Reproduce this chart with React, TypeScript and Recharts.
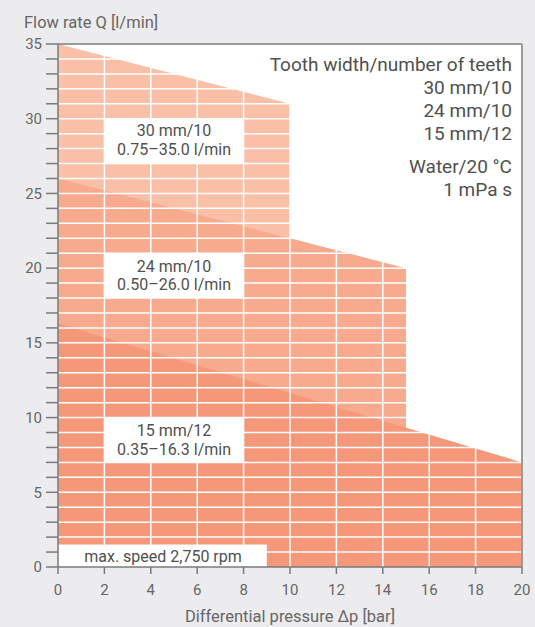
import {
  ComposedChart,
  Area,
  XAxis,
  YAxis,
  CartesianGrid,
  ReferenceLine,
  ReferenceArea,
} from 'recharts'

// delivery rate vs differential pressure, one polygon per gear size
const gear30 = [{ p: 0, q: 35 }, { p: 10, q: 31 }]
const gear24 = [{ p: 0, q: 26 }, { p: 15, q: 20 }]
const gear15 = [{ p: 0, q: 16.3 }, { p: 20, q: 7 }]

const xTicks = [0, 2, 4, 6, 8, 10, 12, 14, 16, 18, 20]
const yTicks = Array.from({ length: 36 }, (_, i) => i)
const gridX = [2, 4, 6, 8, 10, 12, 14, 16, 18]
const gridY = yTicks.slice(1, 35)

const legendLines = ['Tooth width/number of teeth', '30 mm/10', '24 mm/10', '15 mm/12']
const mediumLines = ['Water/20 °C', '1 mPa s']
const label30 = ['30 mm/10', '0.75–35.0 l/min']
const label24 = ['24 mm/10', '0.50–26.0 l/min']
const label15 = ['15 mm/12', '0.35–16.3 l/min']
const speedLabel = 'max. speed 2,750 rpm'

const FONT = 'Roboto, "Noto Sans", sans-serif'
const TEXT = '#505050'

// text sits in a separate svg on top, so the white grid never runs through it
function BoxText({ cx, cy, lines }: { cx: number; cy: number; lines: string[] }) {
  return (
    <text textAnchor="middle" fontSize={16} fill={TEXT}>
      {lines.map((l, i) => (
        <tspan key={i} x={cx} y={cy + 5.5 + (i - (lines.length - 1) / 2) * 18.3}>
          {l}
        </tspan>
      ))}
    </text>
  )
}

export default function App() {
  return (
    <div
      style={{
        position: 'absolute',
        left: 0,
        top: 0,
        width: 535,
        height: 627,
        background: '#ececee',
        fontFamily: FONT,
      }}
    >
      <ComposedChart
        width={535}
        height={627}
        margin={{ top: 44, right: 13, left: 0, bottom: 0 }}
      >
        <CartesianGrid horizontal={false} vertical={false} fill="#ffffff" />
        <XAxis
          type="number"
          dataKey="p"
          domain={[0, 20]}
          ticks={xTicks}
          interval={0}
          height={60}
          tickSize={7}
          tickMargin={10}
          stroke="#7a7a7a"
          strokeWidth={1.5}
          tick={{ fill: '#666', fontSize: 15, fontFamily: FONT }}
        />
        <YAxis
          type="number"
          domain={[0, 35]}
          ticks={yTicks}
          interval={0}
          width={58}
          tickSize={12}
          tickMargin={4}
          stroke="#7a7a7a"
          strokeWidth={1.5}
          tickFormatter={(v: number) => (v % 5 === 0 ? String(v) : '')}
          tick={{ fill: '#666', fontSize: 15, fontFamily: FONT }}
        />
        <Area
          data={gear30}
          dataKey="q"
          type="linear"
          stroke="none"
          fill="#f9bfa7"
          fillOpacity={1}
          isAnimationActive={false}
        />
        <Area
          data={gear24}
          dataKey="q"
          type="linear"
          stroke="none"
          fill="#f8aa8e"
          fillOpacity={1}
          isAnimationActive={false}
        />
        <Area
          data={gear15}
          dataKey="q"
          type="linear"
          stroke="none"
          fill="#f5987a"
          fillOpacity={1}
          isAnimationActive={false}
        />
        {gridY.map((v) => (
          <ReferenceLine key={'h' + v} y={v} stroke="#ffffff" strokeWidth={1.5} />
        ))}
        {gridX.map((v) => (
          <ReferenceLine key={'v' + v} x={v} stroke="#ffffff" strokeWidth={1.5} />
        ))}
        <ReferenceLine y={35} stroke="#9a9a9a" strokeWidth={2} />
        <ReferenceLine x={20} stroke="#9a9a9a" strokeWidth={2} />
        <ReferenceArea x1={2} x2={8} y1={27} y2={30} fill="#fff" fillOpacity={1} stroke="none" />
        <ReferenceArea x1={2} x2={8} y1={18} y2={21} fill="#fff" fillOpacity={1} stroke="none" />
        <ReferenceArea x1={2} x2={8} y1={7} y2={10} fill="#fff" fillOpacity={1} stroke="none" />
        <ReferenceArea x1={0} x2={9} y1={0} y2={1.5} fill="#fff" fillOpacity={1} stroke="none" />
      </ComposedChart>
      <svg
        width={535}
        height={627}
        style={{ position: 'absolute', left: 0, top: 0, pointerEvents: 'none' }}
        fontFamily={FONT}
      >
        <text x={24} y={28} fontSize={16.5} fill="#666">
          Flow rate Q [l/min]
        </text>
        <text x={290} y={622} fontSize={16.5} fill="#666" textAnchor="middle">
          Differential pressure Δp [bar]
        </text>
        {legendLines.map((l, i) => (
          <text key={l} x={512} y={70.7 + i * 23.2} fontSize={19} fill={TEXT} textAnchor="end">
            {l}
          </text>
        ))}
        {mediumLines.map((l, i) => (
          <text key={l} x={512} y={172.7 + i * 23.3} fontSize={19} fill={TEXT} textAnchor="end">
            {l}
          </text>
        ))}
        <BoxText cx={174} cy={140} lines={label30} />
        <BoxText cx={174} cy={275.5} lines={label24} />
        <BoxText cx={174} cy={440} lines={label15} />
        <BoxText cx={163} cy={556} lines={[speedLabel]} />
      </svg>
    </div>
  )
}
